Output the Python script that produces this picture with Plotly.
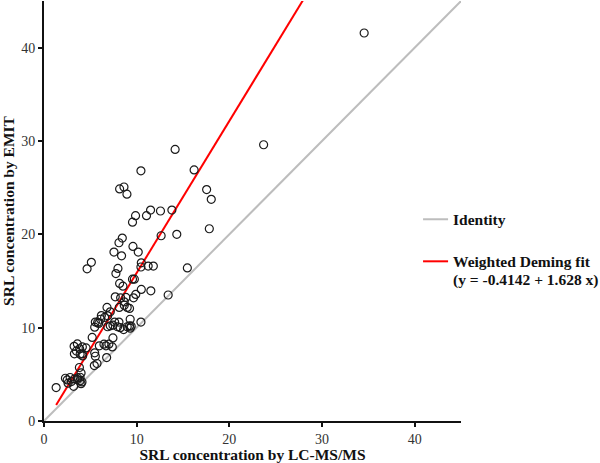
import plotly.graph_objects as go

# LC-MS/MS (x) vs EMIT (y) SRL concentrations
lcms = [34.55, 23.7, 14.15, 16.2, 10.46, 8.16, 8.63, 8.95, 17.55, 18.05,
        9.88, 9.55, 11.5, 11.06, 12.57, 13.8, 12.64, 14.33, 17.84, 8.45,
        8.09, 7.55, 8.37, 9.6, 10.17, 5.11, 4.65, 7.98, 7.76, 10.5,
        10.46, 11.24, 11.8, 15.47, 9.55, 9.75, 10.5, 9.9, 9.66, 8.84,
        8.66, 8.27, 7.69, 11.53, 13.4, 8.16, 8.52, 8.12, 8.66, 8.98,
        9.23, 6.8, 7.15, 6.87, 6.54, 6.19, 6.1, 5.9, 5.54, 5.79,
        5.47, 7.62, 8.09, 7.44, 7.94, 8.23, 8.59, 8.98, 9.23, 9.41,
        6.87, 7.15, 9.3, 9.3, 10.46, 7.44, 5.97, 6.47, 6.69, 7.0,
        7.37, 6.76, 5.2, 5.54, 5.72, 5.43, 5.47, 1.31,
        2.31, 2.6, 2.82, 2.96, 3.2, 3.28, 3.6, 3.64, 3.89, 3.89,
        4.1, 4.0, 3.82, 4.0, 2.5,
        3.6, 3.25, 3.28, 3.5, 4.14, 3.85, 4.54, 4.14, 3.9, 4.17]
emit = [41.57, 29.6, 29.1, 26.9, 26.8, 24.86, 25.07, 24.3, 24.8, 23.75,
        22.0, 21.3, 22.6, 22.0, 22.5, 22.6, 19.85, 20.0, 20.6, 19.6,
        19.1, 18.1, 17.7, 18.7, 18.1, 17.0, 16.3, 16.35, 15.8, 16.95,
        16.5, 16.6, 16.6, 16.4, 15.2, 15.2, 14.1, 13.56, 13.2, 13.24,
        12.77, 13.2, 13.3, 13.95, 13.5, 14.74, 14.45, 12.17, 12.4, 12.17,
        12.06, 12.17, 11.7, 11.27, 11.1, 11.3, 10.9, 10.45, 10.6, 10.56,
        10.05, 10.6, 10.6, 10.27, 10.1, 10.0, 9.8, 10.1, 10.2, 10.16,
        10.1, 10.2, 10.9, 9.95, 10.6, 8.9, 8.05, 8.23, 8.05, 8.23,
        7.94, 6.8, 8.95, 6.94, 6.16, 5.94, 7.3, 3.58,
        4.58, 4.05, 4.66, 4.22, 3.72, 4.5, 4.44, 4.61, 4.29, 4.69,
        4.19, 4.0, 5.73, 5.15, 4.4,
        8.26, 8.0, 7.2, 7.5, 7.94, 7.73, 7.83, 7.2, 7.16, 6.97]

intercept = -0.4142
slope = 1.628
axis_max = 45
tick_vals = [0, 10, 20, 30, 40]

fit_x = [min(lcms), max(lcms)]
fit_y = [intercept + slope * v for v in fit_x]

serif = "Liberation Serif"

fig = go.Figure()
fig.add_trace(go.Scatter(x=[0, axis_max], y=[0, axis_max], mode="lines",
                         line=dict(color="#bdbdbd", width=2), showlegend=False,
                         hoverinfo="skip"))
fig.add_trace(go.Scatter(x=fit_x, y=fit_y, mode="lines",
                         line=dict(color="#ff0000", width=2), showlegend=False,
                         hoverinfo="skip"))
fig.add_trace(go.Scatter(x=lcms, y=emit, mode="markers",
                         marker=dict(symbol="circle-open", size=8, color="#1a1a1a",
                                     line=dict(width=1.2, color="#1a1a1a")),
                         showlegend=False))

# manual legend
legend_items = [("Identity", "#bdbdbd", 1 - (219 - 1) / 419.5),
                ("Weighted Deming fit", "#ff0000", 1 - (261 - 1) / 419.5)]
for name, col, yp in legend_items:
    fig.add_shape(type="line", xref="paper", yref="paper", x0=0.909, x1=0.969,
                  y0=yp, y1=yp, line=dict(color=col, width=2))
    fig.add_annotation(xref="paper", yref="paper", x=0.977, y=yp, text="<b>%s</b>" % name,
                       showarrow=False, xanchor="left", yanchor="middle",
                       font=dict(family=serif, size=15.5, color="#111"))
fig.add_annotation(xref="paper", yref="paper", x=0.977, y=1 - (280 - 1) / 419.5,
                   text="<b>(y = %s + %s x)</b>" % (intercept, slope),
                   showarrow=False, xanchor="left", yanchor="middle",
                   font=dict(family=serif, size=15.5, color="#111"))

axis_common = dict(range=[0, axis_max], tickvals=tick_vals, showgrid=False, zeroline=False,
                   showline=True, linecolor="#111", linewidth=2, ticks="outside",
                   ticklen=4, tickwidth=1.5, tickcolor="#111",
                   tickfont=dict(family=serif, size=14, color="#333"), automargin=False)
fig.update_xaxes(**axis_common,
                 title=dict(text="<b>SRL concentration by LC-MS/MS</b>", standoff=2,
                            font=dict(family=serif, size=15.5, color="#111")))
fig.update_yaxes(**axis_common,
                 title=dict(text="<b>SRL concentration by EMIT</b>", standoff=4,
                            font=dict(family=serif, size=15.5, color="#111")))

fig.update_layout(width=600, height=463, margin=dict(l=44, r=139, t=1, b=42),
                  plot_bgcolor="white", paper_bgcolor="white")
fig.write_html("out.html", config={"displayModeBar": False},
               post_script="document.body.style.margin='0px';")
